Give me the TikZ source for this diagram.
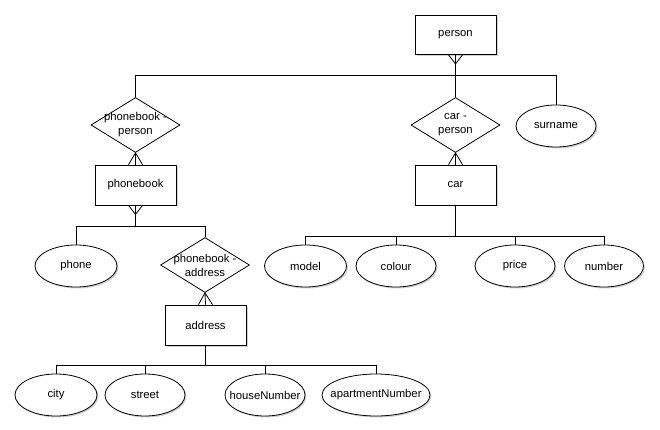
\documentclass[tikz,border=0pt]{standalone}
\usepackage{fontspec}
\setmainfont{Liberation Sans}
\usetikzlibrary{shapes.geometric,shadows}
\begin{document}
\begin{tikzpicture}[x=1pt,y=-1pt,
  line width=0.8pt,
  every node/.style={font=\fontsize{11.3}{14}\selectfont},
  shd/.style={drop shadow={shadow xshift=1.5pt,shadow yshift=-1.5pt,opacity=0.18,fill=black}},
  entity/.style={draw,rectangle,fill=white,shd,minimum width=81pt,minimum height=40pt,inner sep=0pt},
  attr/.style={draw,ellipse,fill=white,shd,minimum width=82pt,minimum height=42pt,inner sep=0pt},
  rel/.style={draw,diamond,fill=white,minimum width=89pt,minimum height=55pt,inner sep=0pt},
  lbl/.style={align=center,inner sep=0pt,font=\fontsize{11.3}{14}\selectfont}
]
\useasboundingbox (0,0) rectangle (660,430);

% nodes
\node[entity,minimum height=39pt] (person) at (455.5,35) {person};
\node[rel,label={[lbl]center:phonebook -\\person}] (pp) at (135.5,125) {};
\node[rel,label={[lbl]center:car -\\person}] (cp) at (455.5,125) {};
\node[attr,minimum width=80pt] (surname) at (556,126) {surname};
\node[entity] (phonebook) at (135.5,185) {phonebook};
\node[entity] (car) at (455.5,185) {car};
\node[attr] (phone) at (76,266) {phone};
\node[rel,label={[lbl]center:phonebook -\\address}] (pa) at (205,265) {};
\node[attr] (model) at (305.5,266) {model};
\node[attr,minimum width=80pt] (colour) at (396,266) {colour};
\node[attr,minimum width=80pt] (price) at (515,266) {price};
\node[attr,minimum width=79pt] (number) at (604,266) {number};
\node[entity] (address) at (205.5,325) {address};
\node[attr] (city) at (56,395) {city};
\node[attr,minimum width=80pt] (street) at (145,395) {};
\node[lbl] (streett) at (street) {street};
\node[attr,minimum width=80pt] (house) at (265,395) {};
\node[lbl] (houset) at (house) {houseNumber};
\node[attr,minimum width=108pt] (apt) at (376,395) {};
\node[lbl] (aptt) at (apt) {apartmentNumber};

% hubs
\coordinate (h1) at (455.5,75);
\coordinate (h2) at (135.5,226);
\coordinate (h3) at (455.5,236);
\coordinate (h4) at (205.5,365);

% person tree
\draw (person.south) -- (h1);
\draw (h1) -| (pp.north);
\draw (h1) -| (surname.north);
\draw (h1) -- (cp.north);
\draw ([xshift=-7pt]person.south) -- ([yshift=-9pt]person.south) -- ([xshift=7pt]person.south);

% relationships to entities
\draw (pp.south) -- (phonebook.north);
\draw ([xshift=-7pt]phonebook.north) -- (pp.south) -- ([xshift=7pt]phonebook.north);
\draw (cp.south) -- (car.north);
\draw ([xshift=-7pt]car.north) -- (cp.south) -- ([xshift=7pt]car.north);
\draw (pa.south) -- (address.north);
\draw ([xshift=-7pt]address.north) -- (pa.south) -- ([xshift=7pt]address.north);

% phonebook tree
\draw (phonebook.south) -- (h2);
\draw (h2) -| (phone.north);
\draw (h2) -| (pa.north);
\draw ([xshift=-7pt]phonebook.south) -- ([yshift=-9pt]phonebook.south) -- ([xshift=7pt]phonebook.south);

% car tree
\draw (car.south) -- (h3);
\draw (h3) -| (model.north);
\draw (h3) -| (colour.north);
\draw (h3) -| (price.north);
\draw (h3) -| (number.north);

% address tree
\draw (address.south) -- (h4);
\draw (h4) -| (city.north);
\draw (h4) -| (street.north);
\draw (h4) -| (house.north);
\draw (h4) -| (apt.north);
\end{tikzpicture}
\end{document}
